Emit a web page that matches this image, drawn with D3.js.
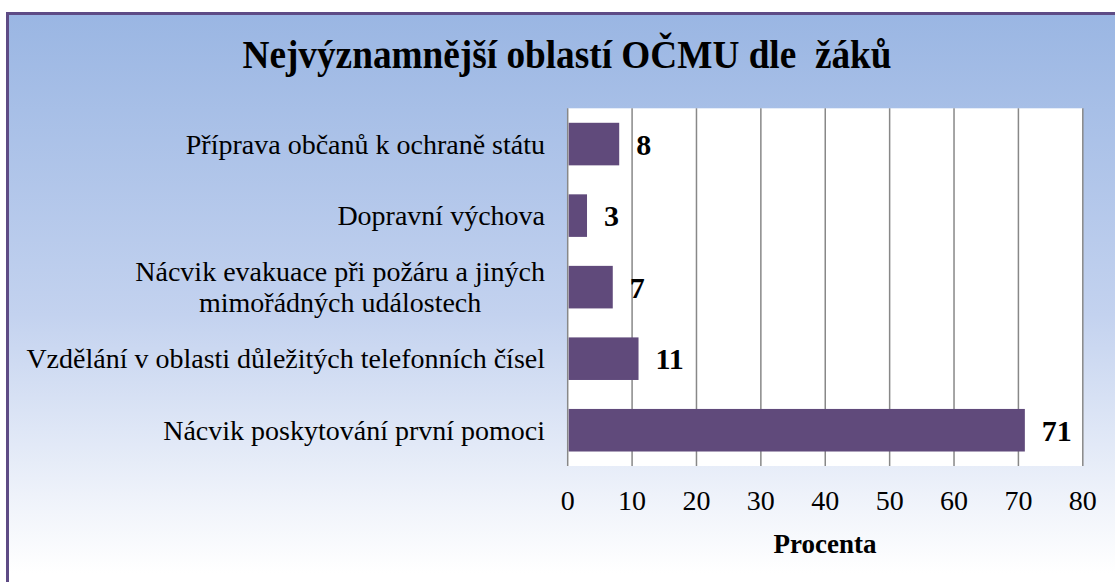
<!DOCTYPE html>
<html>
<head>
<meta charset="utf-8">
<script src="https://cdn.jsdelivr.net/npm/d3@7"></script>
<style>
  html, body { margin: 0; padding: 0; background: #fff; }
  svg { display: block; }
  text { font-family: "Liberation Serif", "Times New Roman", serif; fill: #000; }
</style>
</head>
<body>
<svg id="chart"></svg>
<script>
const categories = [
  ["Příprava občanů k ochraně státu"],
  ["Dopravní výchova"],
  ["Nácvik evakuace při požáru a jiných", "mimořádných událostech"],
  ["Vzdělání v oblasti důležitých telefonních čísel"],
  ["Nácvik poskytování první pomoci"]
]
const values = [8, 3, 7, 11, 71]
const xTicks = [0, 10, 20, 30, 40, 50, 60, 70, 80]

const W = 1115, H = 582
const plot = { left: 567.7, right: 1082.8, top: 108.3, bottom: 466 }

const svg = d3.select("#chart").attr("width", W).attr("height", H)

// background gradient of the chart frame
const grad = svg.append("defs").append("linearGradient")
  .attr("id", "bg").attr("x1", 0).attr("y1", 0).attr("x2", 0).attr("y2", 1)
grad.append("stop").attr("offset", "0").attr("stop-color", "#9ab6e3")
grad.append("stop").attr("offset", "0.5").attr("stop-color", "#c3d2ef")
grad.append("stop").attr("offset", "0.8").attr("stop-color", "#eef2fa")
grad.append("stop").attr("offset", "0.93").attr("stop-color", "#ffffff")

svg.append("rect")
  .attr("x", 7.5).attr("y", 13.5).attr("width", W + 20).attr("height", H + 20)
  .attr("fill", "url(#bg)").attr("stroke", "#5e4b85").attr("stroke-width", 3)

const x = d3.scaleLinear().domain([0, 80]).range([plot.left, plot.right])
const y = d3.scaleBand().domain(d3.range(categories.length))
  .range([plot.top, plot.bottom]).paddingInner(0.405).paddingOuter(0.2025)

// plot area
svg.append("rect")
  .attr("x", plot.left).attr("y", plot.top)
  .attr("width", plot.right - plot.left).attr("height", plot.bottom - plot.top)
  .attr("fill", "#fff")

// gridlines
svg.append("g").selectAll("line")
  .data(xTicks).enter().append("line")
  .attr("x1", d => x(d)).attr("x2", d => x(d))
  .attr("y1", plot.top).attr("y2", plot.bottom)
  .attr("stroke", "#888").attr("stroke-width", 1.5)

// bars
svg.append("g").selectAll("rect")
  .data(values).enter().append("rect")
  .attr("x", x(0) + 1).attr("y", (d, i) => y(i))
  .attr("width", d => x(d) - x(0) - 1).attr("height", y.bandwidth())
  .attr("fill", "#604a7b")

// value labels
svg.append("g").selectAll("text")
  .data(values).enter().append("text")
  .attr("x", d => x(d) + 17).attr("y", (d, i) => y(i) + y.bandwidth() / 2)
  .attr("dy", "0.35em")
  .style("font-size", "30px").style("font-weight", "bold")
  .text(d => d)

// category labels
const lineH = 31
categories.forEach((lines, i) => {
  const cy = y(i) + y.bandwidth() / 2
  const t = svg.append("text")
    .style("font-size", "28px")
    .attr("y", cy - (lines.length - 1) * lineH / 2)
  lines.forEach((ln, j) => {
    t.append("tspan").attr("x", 545).attr("dy", j === 0 ? "0.35em" : lineH).text(ln)
  })
  if (lines.length > 1) {
    // wrapped label: lines centered on each other, right edge at 545
    const w = d3.max(t.selectAll("tspan").nodes(), n => n.getComputedTextLength())
    t.attr("text-anchor", "middle").selectAll("tspan").attr("x", 545 - w / 2)
  } else {
    t.attr("text-anchor", "end")
  }
})

// x axis tick labels
svg.append("g").selectAll("text")
  .data(xTicks).enter().append("text")
  .attr("x", d => x(d)).attr("y", 510)
  .attr("text-anchor", "middle")
  .style("font-size", "28px")
  .text(d => d)

// axis title
svg.append("text")
  .attr("x", 825).attr("y", 553).attr("text-anchor", "middle")
  .style("font-size", "27px").style("font-weight", "bold")
  .text("Procenta")

// chart title (double space kept as in the original)
svg.append("text")
  .attr("x", 567).attr("y", 68).attr("text-anchor", "middle")
  .attr("textLength", 649).attr("lengthAdjust", "spacingAndGlyphs")
  .style("font-size", "40px").style("font-weight", "bold")
  .style("white-space", "pre")
  .text("Nejvýznamnější oblastí OČMU dle  žáků")
</script>
</body>
</html>
